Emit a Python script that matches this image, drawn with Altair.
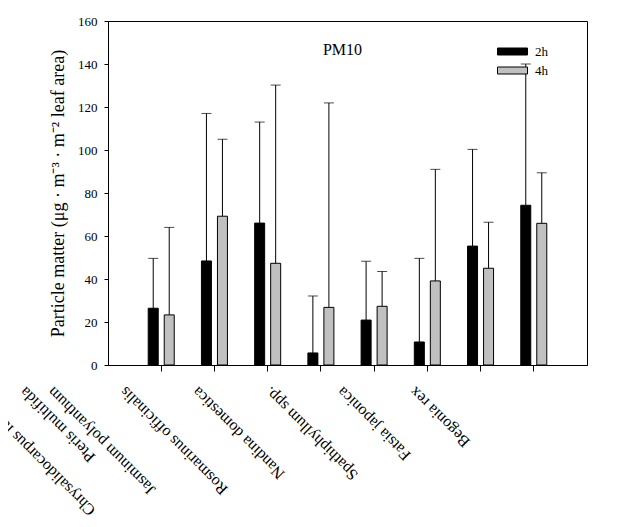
import altair as alt
import pandas as pd

species = [
    "Chrysalidocarpus lutescens",
    "Pteris multifida",
    "Jasminum polyanthum",
    "Rosmarinus officinalis",
    "Nandina domestica",
    "Spathiphyllum spp.",
    "Fatsia japonica",
    "Begonia rex",
]
series = ["2h", "4h"]
mean_2h = [26.4, 48.4, 66.0, 5.6, 20.9, 10.7, 55.3, 74.3]
sd_2h = [23.2, 68.6, 47.0, 26.5, 27.3, 38.9, 45.0, 65.7]
mean_4h = [23.3, 69.2, 47.3, 26.8, 27.3, 39.1, 45.0, 65.9]
sd_4h = [40.7, 35.8, 82.9, 95.1, 16.2, 51.9, 21.4, 23.5]

rows = []
for i, sp in enumerate(species):
    rows.append({"species": sp, "series": "2h", "mean": mean_2h[i], "sd": sd_2h[i]})
    rows.append({"species": sp, "series": "4h", "mean": mean_4h[i], "sd": sd_4h[i]})
df = pd.DataFrame(rows)

serif = "Liberation Serif"

x_enc = alt.X(
    "species:N",
    sort=species,
    scale=alt.Scale(paddingInner=0, paddingOuter=0.5),
    axis=alt.Axis(
        title="",
        labelAngle=225,
        labelAlign="right",
        labelBaseline="middle",
        labelPadding=18,
        labelOffset=alt.ExprRef(expr="datum.index < 0.2 ? -192 : -256 + 134.4 * datum.index"),
        labelFont=serif,
        labelFontSize=16,
        labelColor="black",
        labelLimit=400,
        labelOverlap=False,
        labelBound=False,
        labelFlush=False,
        tickSize=6,
        tickColor="black",
        domainColor="black",
    ),
)
xoff_enc = alt.XOffset(
    "series:N",
    sort=series,
    scale=alt.Scale(paddingInner=0.375, paddingOuter=0.85),
)
y_scale = alt.Scale(domain=[0, 160], nice=False)
y_axis = alt.Axis(
    title="Particle matter (\u03bcg \u00b7 m\u207b\u00b3 \u00b7 m\u207b\u00b2 leaf area)",
    titleFont=serif,
    titleFontSize=18,
    titleFontWeight="normal",
    titleColor="black",
    titlePadding=10,
    values=list(range(0, 161, 20)),
    labelFont=serif,
    labelFontSize=13,
    labelColor="black",
    labelPadding=7,
    tickSize=4,
    tickColor="black",
    domainColor="black",
    grid=False,
)

base = alt.Chart(df).transform_calculate(upper="datum.mean + datum.sd")

rules = base.mark_rule(color="black", strokeWidth=1).encode(
    x=x_enc,
    xOffset=xoff_enc,
    y=alt.Y("mean:Q", scale=y_scale, axis=y_axis),
    y2="upper:Q",
)
caps = base.mark_tick(color="black", size=10, thickness=1).encode(
    x=x_enc,
    xOffset=xoff_enc,
    y=alt.Y("upper:Q", scale=y_scale),
)
bars = base.mark_bar(stroke="black", strokeWidth=1).encode(
    x=x_enc,
    xOffset=xoff_enc,
    y=alt.Y("mean:Q", scale=y_scale, axis=y_axis),
    color=alt.Color(
        "series:N",
        sort=series,
        scale=alt.Scale(domain=series, range=["#000000", "#c0c0c0"]),
        legend=alt.Legend(
            title=None,
            orient="none",
            legendX=388,
            legendY=24,
            symbolType="M-1,-0.7H5V0.7H-1Z",
            symbolSize=100,
            symbolStrokeColor="black",
            symbolStrokeWidth=1,
            symbolOpacity=1,
            labelFont=serif,
            labelFontSize=13,
            labelColor="black",
            labelOffset=26,
            rowPadding=5,
        ),
    ),
)

chart = (
    alt.layer(rules, caps, bars)
    .properties(
        width=479,
        height=344,
        title=alt.TitleParams(
            text="PM10",
            font=serif,
            fontSize=16,
            fontWeight="normal",
            color="black",
            offset=-56,
            baseline="alphabetic",
            dx=-5,
        ),
        autosize=alt.AutoSizeParams(type="none"),
        padding={"left": 100, "top": 13, "right": 27, "bottom": 154},
        background="white",
    )
    .configure_view(stroke="black", strokeWidth=1)
)

chart.save("out.html", embed_options={"renderer": "svg", "actions": False})
